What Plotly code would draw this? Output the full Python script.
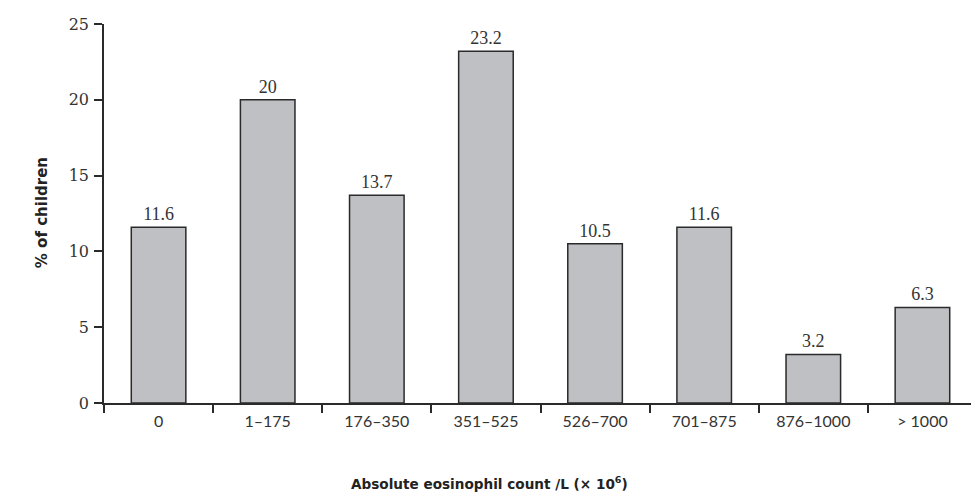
import plotly.graph_objects as go

categories = ["0", "1–175", "176–350", "351–525", "526–700", "701–875", "876–1000", "> 1000"]
values = [11.6, 20, 13.7, 23.2, 10.5, 11.6, 3.2, 6.3]
labels = ["11.6", "20", "13.7", "23.2", "10.5", "11.6", "3.2", "6.3"]
y_ticks = [0, 5, 10, 15, 20, 25]

fig = go.Figure()
fig.add_trace(go.Bar(
    x=categories, y=values, text=labels, textposition="outside",
    textfont=dict(family="Liberation Serif", size=18, color="#333"),
    marker=dict(color="#bfc0c4", line=dict(color="#2a2a2a", width=1.5)),
    width=0.5, cliponaxis=False,
))

fig.update_layout(
    width=971, height=492,
    margin=dict(l=96, r=2, t=16, b=97),
    plot_bgcolor="white", paper_bgcolor="white",
    showlegend=False,
    xaxis=dict(
        type="category", range=[-0.5, 7.5], automargin=False,
        showline=True, linecolor="#2a2a2a", linewidth=1.5,
        ticks="outside", tickson="boundaries", ticklen=8, tickwidth=1.5, tickcolor="#2a2a2a",
        tickfont=dict(family="Lato", size=16, color="#333"),
        ticklabelstandoff=3,
        showgrid=False,
    ),
    yaxis=dict(
        range=[0, 25], tickvals=y_ticks, automargin=False,
        showline=True, linecolor="#2a2a2a", linewidth=1.5,
        ticks="outside", ticklen=8, tickwidth=1.5, tickcolor="#2a2a2a",
        tickfont=dict(family="DejaVu Serif", size=16, color="#333"),
        ticklabelstandoff=2,
        showgrid=False, zeroline=False,
    ),
    annotations=[
        dict(text="<b>Absolute eosinophil count /L (× 10<sup>6</sup>)</b>",
             xref="paper", yref="paper", x=0.442, y=-0.211, xanchor="center", yanchor="middle",
             showarrow=False, font=dict(family="DejaVu Sans", size=13.6, color="#222")),
        dict(text="<b>% of children</b>", textangle=-90,
             xref="paper", yref="paper", x=-0.071, y=0.501, xanchor="center", yanchor="middle",
             showarrow=False, font=dict(family="DejaVu Sans", size=15, color="#222")),
    ],
)

fig.write_html("out.html")
